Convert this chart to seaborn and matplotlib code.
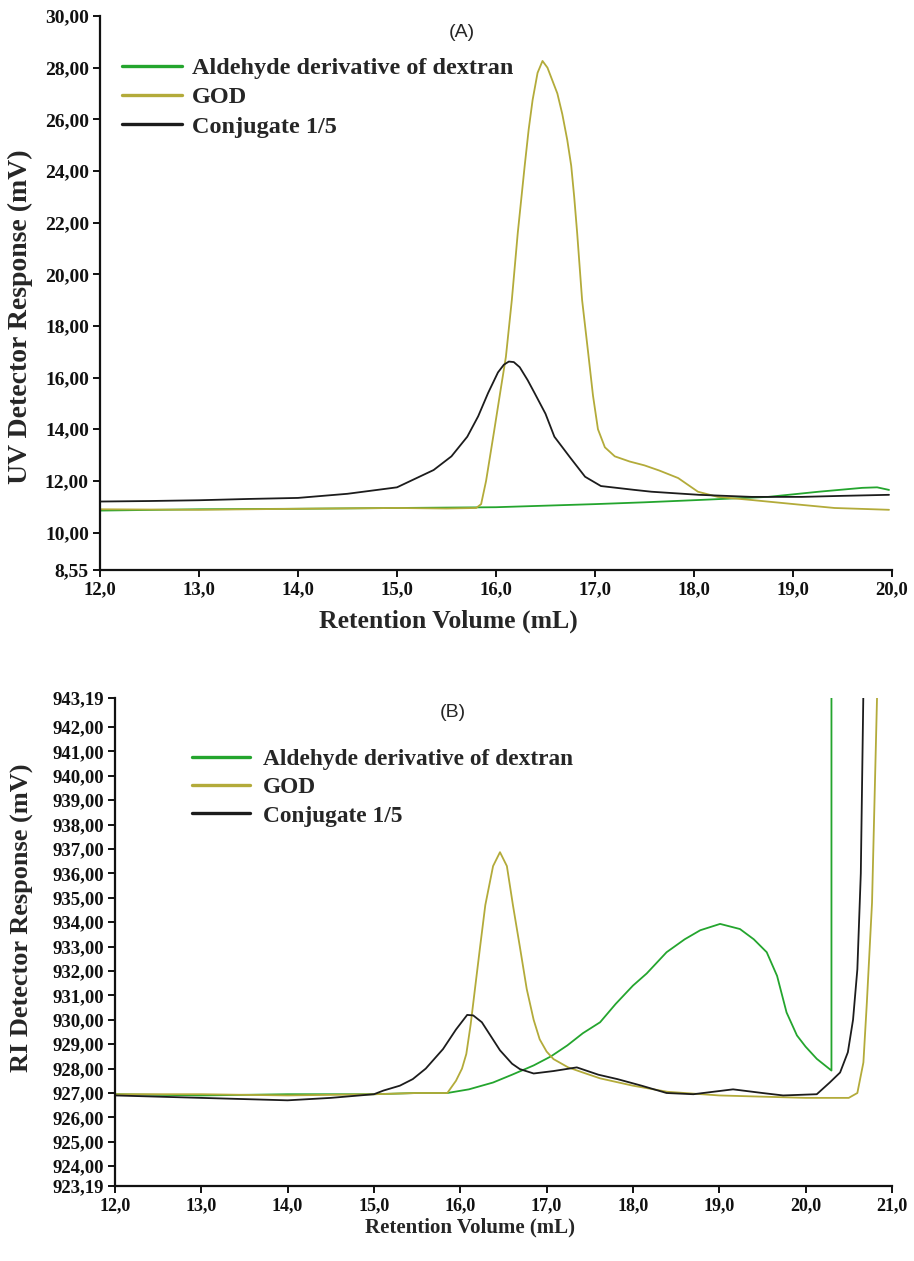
import numpy as np
import pandas as pd
import matplotlib
matplotlib.use('Agg')
import matplotlib.pyplot as plt
from matplotlib.lines import Line2D
import seaborn as sns

# (A) UV detector, retention volume (mL) vs response (mV)
uv_god_x = [12.0, 13.0, 14.0, 15.0, 15.5, 15.8, 15.85, 15.9, 15.98, 16.05, 16.1, 16.16, 16.22, 16.29,
            16.33, 16.37, 16.42, 16.47, 16.52, 16.57, 16.62, 16.67, 16.72, 16.76, 16.79, 16.82, 16.87,
            16.93, 16.98, 17.03, 17.1, 17.2, 17.35, 17.5, 17.65, 17.84, 18.04, 18.24, 18.58, 19.09,
            19.42, 19.97]
uv_god_y = [10.9, 10.88, 10.92, 10.95, 10.93, 10.95, 11.1, 12.0, 13.9, 15.6, 16.8, 19.0, 21.6, 24.2,
            25.6, 26.75, 27.8, 28.26, 28.0, 27.5, 27.0, 26.2, 25.2, 24.2, 23.0, 21.6, 19.0,
            17.0, 15.3, 14.0, 13.3, 12.95, 12.75, 12.6, 12.4, 12.11, 11.58, 11.38, 11.26, 11.07,
            10.95, 10.88]

uv_dex_x = [12.0, 13.0, 14.0, 15.0, 16.0, 17.0, 17.5, 18.05, 18.75, 19.26, 19.7, 19.85, 19.97]
uv_dex_y = [10.85, 10.9, 10.92, 10.95, 10.98, 11.1, 11.17, 11.26, 11.38, 11.58, 11.73, 11.75, 11.65]

uv_conj_x = [12.0, 12.5, 13.0, 13.5, 14.0, 14.5, 15.0, 15.37, 15.55, 15.71, 15.82, 15.92, 16.02,
             16.08, 16.13, 16.18, 16.24, 16.32, 16.39, 16.5, 16.59, 16.75, 16.9, 17.06, 17.4, 17.57,
             18.05, 18.58, 19.09, 19.5, 19.97]
uv_conj_y = [11.2, 11.22, 11.25, 11.3, 11.34, 11.5, 11.75, 12.42, 12.95, 13.71, 14.5, 15.4, 16.2,
             16.5, 16.62, 16.6, 16.4, 15.9, 15.4, 14.6, 13.71, 12.9, 12.16, 11.8, 11.65, 11.58,
             11.46, 11.38, 11.38, 11.42, 11.46]

# (B) RI detector
ri_god_x = [12.0, 13.0, 14.0, 15.0, 15.5, 15.85, 15.95, 16.02, 16.07, 16.12, 16.17, 16.23, 16.29,
            16.38, 16.46, 16.54, 16.61, 16.69, 16.77, 16.85, 16.92, 17.0, 17.08, 17.25, 17.42, 17.62,
            18.0, 18.4, 19.0, 19.5, 20.0, 20.5, 20.6, 20.67, 20.71, 20.77, 20.83]
ri_god_y = [926.95, 926.95, 926.9, 926.95, 927.0, 927.0, 927.5, 928.0, 928.6, 929.8, 931.26, 933.0,
            934.7, 936.3, 936.87, 936.3, 934.7, 933.0, 931.26, 930.0, 929.2, 928.7, 928.39, 928.05,
            927.84, 927.6, 927.3, 927.05, 926.9, 926.85, 926.8, 926.8, 927.0, 928.25, 930.7, 934.8,
            943.5]

ri_dex_x = [12.0, 13.0, 14.0, 15.0, 15.5, 15.85, 16.1, 16.38, 16.6, 16.85, 17.05, 17.24, 17.42,
            17.62, 17.8, 18.0, 18.16, 18.39, 18.6, 18.78, 19.01, 19.24, 19.4, 19.55, 19.67, 19.78,
            19.9, 20.0, 20.13, 20.3, 20.3]
ri_dex_y = [926.95, 926.9, 926.95, 926.95, 927.0, 927.0, 927.15, 927.43, 927.75, 928.13, 928.5,
            928.95, 929.45, 929.9, 930.65, 931.4, 931.9, 932.77, 933.3, 933.67, 933.93, 933.72,
            933.3, 932.77, 931.8, 930.3, 929.36, 928.9, 928.4, 927.92, 945.0]

ri_conj_x = [12.0, 12.5, 13.0, 13.5, 14.0, 14.5, 15.0, 15.11, 15.3, 15.45, 15.6, 15.8, 15.95,
             16.08, 16.15, 16.25, 16.46, 16.6, 16.69, 16.85, 17.08, 17.35, 17.6, 17.82, 18.1, 18.39,
             18.7, 19.16, 19.5, 19.74, 20.13, 20.28, 20.4, 20.49, 20.55, 20.6, 20.64, 20.67]
ri_conj_y = [926.9, 926.85, 926.8, 926.75, 926.7, 926.8, 926.95, 927.1, 927.3, 927.57, 928.0,
             928.8, 929.6, 930.2, 930.18, 929.9, 928.75, 928.2, 927.98, 927.8, 927.9, 928.05,
             927.75, 927.57, 927.3, 927.0, 926.95, 927.15, 927.0, 926.9, 926.95, 927.43, 927.84,
             928.67, 930.0, 932.07, 936.0, 943.5]

series_names = ['Aldehyde derivative of dextran', 'GOD', 'Conjugate 1/5']
colors = ['#24a52e', '#b3ab3a', '#1c1c1c']

uv_yticks = [8.55, 10, 12, 14, 16, 18, 20, 22, 24, 26, 28, 30]
ri_yticks = [923.19, 924, 925, 926, 927, 928, 929, 930, 931, 932, 933, 934, 935, 936, 937, 938,
             939, 940, 941, 942, 943.19]


def long_frame(xs, ys):
    parts = []
    for name, x, y in zip(series_names, xs, ys):
        parts.append(pd.DataFrame({'vol': x, 'resp': y, 'series': name}))
    return pd.concat(parts, ignore_index=True)


uv_df = long_frame([uv_dex_x, uv_god_x, uv_conj_x], [uv_dex_y, uv_god_y, uv_conj_y])
ri_df = long_frame([ri_dex_x, ri_god_x, ri_conj_x], [ri_dex_y, ri_god_y, ri_conj_y])

sns.set_style('ticks')
plt.rcParams['font.family'] = ['Liberation Serif', 'DejaVu Serif']
palette = dict(zip(series_names, colors))

fig = plt.figure(figsize=(9.14, 12.61), dpi=100)
ax1 = fig.add_axes([0.1094, 0.548, 0.8665, 0.4393])
ax2 = fig.add_axes([0.1258, 0.0595, 0.850, 0.387])


def comma(v, dec):
    return ('{:.%df}' % dec).format(v).replace('.', ',')


panels = [
    (ax1, uv_df, 20, uv_yticks, 'UV Detector Response (mV)', 14, 13.5, 20, 18.5,
     (-0.084, 0.458), (0.44, -0.072)),
    (ax2, ri_df, 21, ri_yticks, 'RI Detector Response (mV)', 13.5, 13, 19, 15,
     (-0.104, 0.549), (0.457, -0.064)),
]
for ax, df, xmax, yticks, ylabel, ysize, xsize, ylsize, xlsize, ypos, xpos in panels:
    for name in series_names:
        sub = df[df['series'] == name]
        sns.lineplot(data=sub, x='vol', y='resp', color=palette[name], sort=False,
                     estimator=None, lw=1.3, ax=ax, legend=False)
    ax.set_xlim(12, xmax)
    ax.set_ylim(yticks[0], yticks[-1])
    xt = list(range(12, xmax + 1))
    ax.set_xticks(xt)
    ax.set_xticklabels([comma(v, 1) for v in xt], fontsize=xsize, fontweight='bold')
    ax.set_yticks(yticks)
    ax.set_yticklabels([comma(v, 2) for v in yticks], fontsize=ysize, fontweight='bold')
    ax.set_xlabel('Retention Volume (mL)', fontsize=xlsize, fontweight='bold')
    ax.set_ylabel(ylabel, fontsize=ylsize, fontweight='bold')
    ax.yaxis.set_label_coords(*ypos)
    ax.xaxis.set_label_coords(*xpos)
    sns.despine(ax=ax)
    for s in ['left', 'bottom']:
        ax.spines[s].set_linewidth(1.6)
        ax.spines[s].set_color('#111111')
    ax.tick_params(length=5, width=1.4, pad=3, colors='#111111')

handles = [Line2D([], [], color=c, lw=2.4) for c in colors]
ax1.legend(handles, series_names, loc='upper left', bbox_to_anchor=(0.1335, 0.9548),
           bbox_transform=fig.transFigure, frameon=False, borderpad=0, borderaxespad=0,
           handlelength=2.47, handletextpad=0.41, labelspacing=0.3,
           prop={'family': 'Liberation Serif', 'weight': 'bold', 'size': 17.5})
ax2.legend(handles, series_names, loc='upper left', bbox_to_anchor=(0.21, 0.4064),
           bbox_transform=fig.transFigure, frameon=False, borderpad=0, borderaxespad=0,
           handlelength=2.5, handletextpad=0.56, labelspacing=0.3,
           prop={'family': 'Liberation Serif', 'weight': 'bold', 'size': 16.8})

fig.text(0.505, 0.9746, '(A)', ha='center', va='center', fontsize=14, family='Liberation Sans')
fig.text(0.495, 0.4346, '(B)', ha='center', va='center', fontsize=14, family='Liberation Sans')

fig.savefig('out.png', dpi=100, facecolor='white')
